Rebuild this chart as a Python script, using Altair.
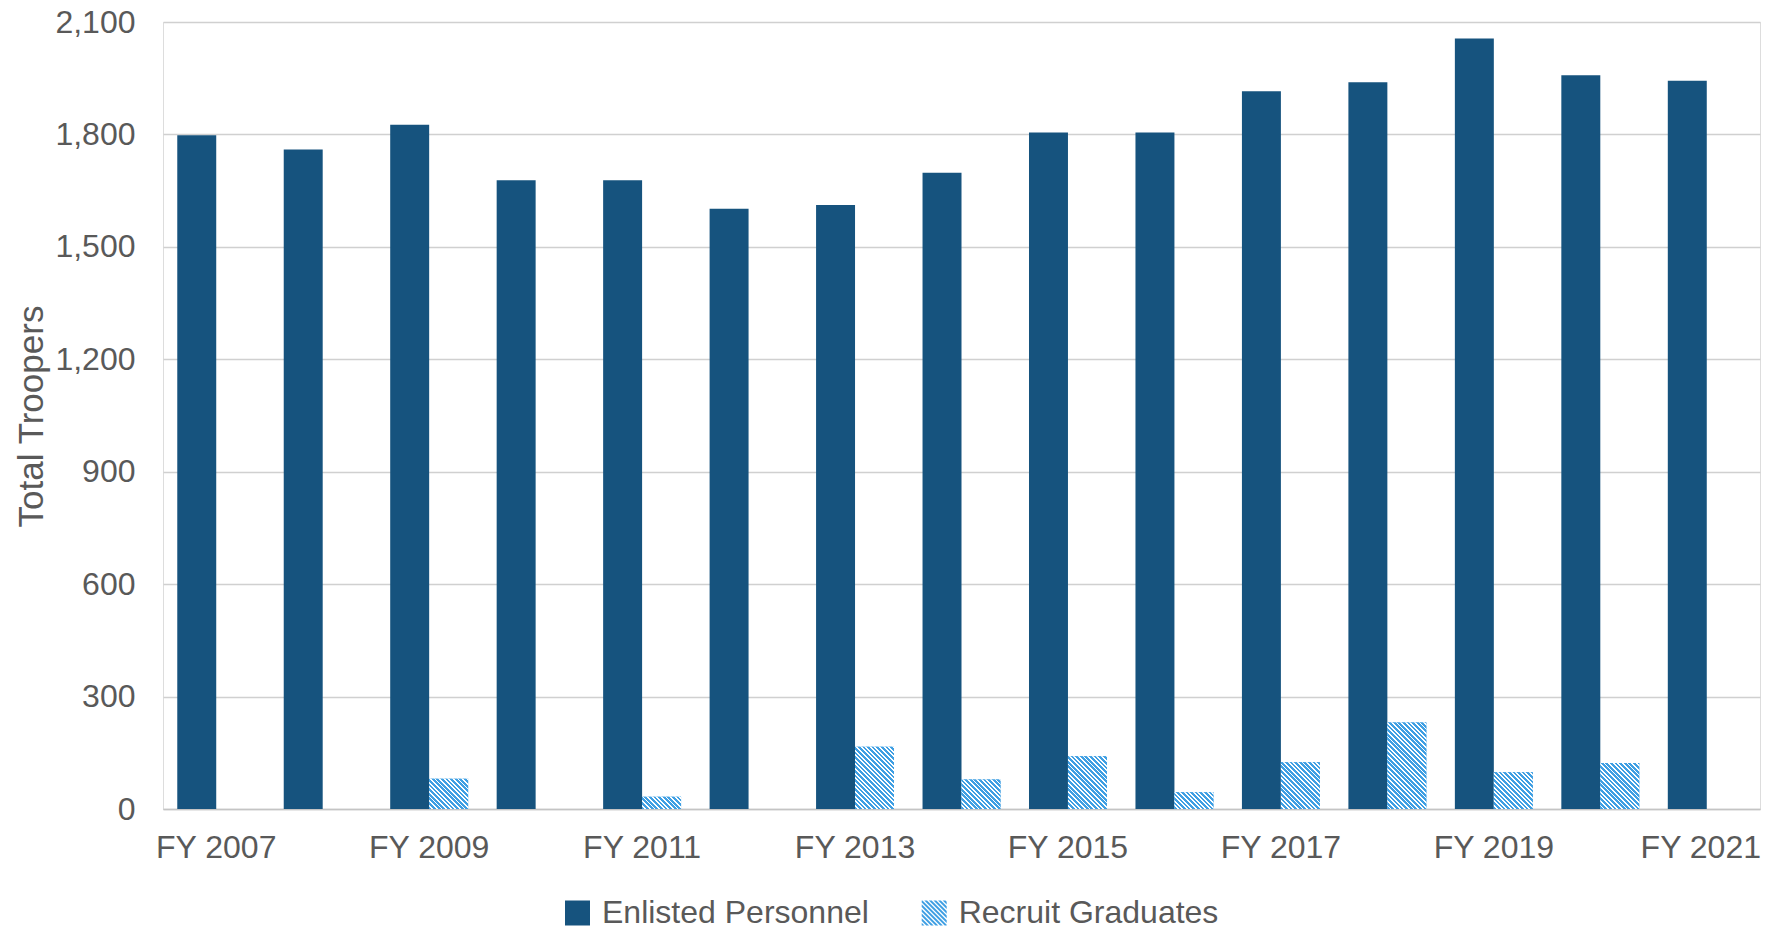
import altair as alt

# ---------------- data ----------------
years = ["FY 2007", "FY 2008", "FY 2009", "FY 2010", "FY 2011", "FY 2012", "FY 2013",
         "FY 2014", "FY 2015", "FY 2016", "FY 2017", "FY 2018", "FY 2019", "FY 2020", "FY 2021"]
enlisted = [1798, 1760, 1826, 1678, 1678, 1602, 1612, 1698, 1805, 1805, 1915, 1939, 2056, 1958, 1943]
recruits = [0, 0, 81, 0, 33, 0, 166, 79, 141, 45, 125, 231, 98, 123, 0]
series = ["Enlisted Personnel", "Recruit Graduates"]
label_years = ["FY 2007", "FY 2009", "FY 2011", "FY 2013", "FY 2015", "FY 2017", "FY 2019", "FY 2021"]
y_ticks = [0, 300, 600, 900, 1200, 1500, 1800, 2100]

# ---------------- style ----------------
DARK = "#16537e"
LIGHT = "#3f9fe3"
TEXT = "#595959"
FONT = "Liberation Sans"
W, H = 1597, 787
PI, PO = 0.268, 0.134
YMAX = 2100
PERIOD = 4.6
BLUE_FRAC = 0.6
FS = 32
SYM = 25

rows = []
for i, yr in enumerate(years):
    rows.append({"year": yr, "series": series[0], "troopers": enlisted[i]})
    rows.append({"year": yr, "series": series[1], "troopers": recruits[i]})


def hatch(w, h):
    """Diagonal (\\) stripe pattern as a hard-stop linear gradient in bbox units."""
    total = w + h
    lam = total / (w * w + h * h)
    stops = []
    k = 0
    while k * PERIOD / total < 1:
        a = k * PERIOD / total
        b = min(1.0, (k + BLUE_FRAC) * PERIOD / total)
        c = min(1.0, (k + 1) * PERIOD / total)
        stops += [{"offset": round(a, 5), "color": LIGHT}, {"offset": round(b, 5), "color": LIGHT}]
        if b < 1:
            stops += [{"offset": round(b, 5), "color": "#ffffff"}, {"offset": round(c, 5), "color": "#ffffff"}]
        k += 1
    return {"gradient": "linear", "x1": 0, "y1": 1,
            "x2": round(lam * w, 5), "y2": round(1 - lam * h, 5), "stops": stops}


def clip(poly, a, b, c):
    """Keep the part of a convex polygon where a*x + b*y <= c."""
    out = []
    n = len(poly)
    for i in range(n):
        p, q = poly[i], poly[(i + 1) % n]
        fp = a * p[0] + b * p[1] - c
        fq = a * q[0] + b * q[1] - c
        if fp <= 0:
            out.append(p)
        if (fp < 0 < fq) or (fq < 0 < fp):
            t = fp / (fp - fq)
            out.append((p[0] + t * (q[0] - p[0]), p[1] + t * (q[1] - p[1])))
    return out


def hatch_symbol():
    """Custom symbol path (unit square -1..1) made of diagonal stripes."""
    square = [(-1, -1), (1, -1), (1, 1), (-1, 1)]
    period = PERIOD / SYM * 2
    parts = []
    c0 = -2.0
    while c0 < 2:
        c1 = c0 + BLUE_FRAC * period
        poly = clip(clip(square, -1, 1, -c0), 1, -1, c1)
        if len(poly) >= 3:
            parts.append("M" + "L".join(f"{px:.3f},{py:.3f}" for px, py in poly) + "Z")
        c0 += period
    return "".join(parts)


step = W / (len(years) - PI + 2 * PO)
bar_w = step * (1 - PI) / 2
conds = []
for yr, v in zip(years, recruits):
    if v > 0:
        conds.append({"test": f"datum.year === '{yr}'", "value": hatch(bar_w, v * H / YMAX)})

legend_common = dict(title=None, orient="none", direction="horizontal", padding=0,
                     symbolSize=SYM * SYM, symbolStrokeWidth=0,
                     labelFontSize=FS, labelColor=TEXT, labelFont=FONT, labelLimit=600,
                     labelOffset=8.5)
LEG_Y = 875

x = alt.X("year:N", sort=years,
          scale=alt.Scale(paddingInner=PI, paddingOuter=PO),
          axis=alt.Axis(values=label_years, title=None, labelAngle=0, ticks=False, tickSize=0,
                        labelPadding=23, domainColor="#c4c4c4", domainWidth=1.6, grid=False,
                        labelFontSize=FS, labelColor=TEXT, labelFont=FONT,
                        labelOffset={"condition": {"test": f"datum.value === '{label_years[-1]}'",
                                                   "value": -6},
                                     "value": 0}))
y = alt.Y("troopers:Q",
          scale=alt.Scale(domain=[0, YMAX], nice=False),
          axis=alt.Axis(values=y_ticks, format=",.0f", title="Total Troopers", domain=False,
                        ticks=False, tickSize=0, labelPadding=28, gridColor="#d0d0d0", gridWidth=1.3,
                        labelFontSize=FS, labelColor=TEXT, labelFont=FONT,
                        titleFontSize=35, titleFontWeight="normal", titleColor=TEXT, titleFont=FONT,
                        titleX=-121, titleY=394, titleBaseline="alphabetic"))
xo = alt.XOffset("series:N", sort=series, scale=alt.Scale(domain=series))

base = alt.Chart(alt.Data(values=rows))

layer_a = base.mark_bar().encode(
    x=x, y=y, xOffset=xo,
    fill=alt.Fill("series:N", scale=alt.Scale(domain=series, range=[DARK, LIGHT]),
                  legend=alt.Legend(values=[series[0]], legendX=398.5, legendY=LEG_Y,
                                    symbolType="square", **legend_common)),
)

layer_b = base.transform_filter(
    f"datum.series === '{series[1]}' && datum.troopers > 0"
).mark_bar(strokeWidth=0).encode(
    x=x, y=y, xOffset=xo,
    fill=alt.FillValue(value=LIGHT, condition=conds),
    stroke=alt.Stroke("series:N", scale=alt.Scale(domain=[series[1]], range=[LIGHT]),
                      legend=alt.Legend(values=[series[1]], legendX=755.2, legendY=LEG_Y,
                                        symbolType=hatch_symbol(), **legend_common)),
)

chart = alt.layer(layer_a, layer_b).properties(
    width=W, height=H,
    padding={"left": 155, "top": 14, "right": 10, "bottom": 121},
    autosize=alt.AutoSizeParams(type="none"),
).configure_view(strokeWidth=0).configure(font=FONT)

chart.save("out.html", embed_options={"renderer": "svg", "actions": False})
